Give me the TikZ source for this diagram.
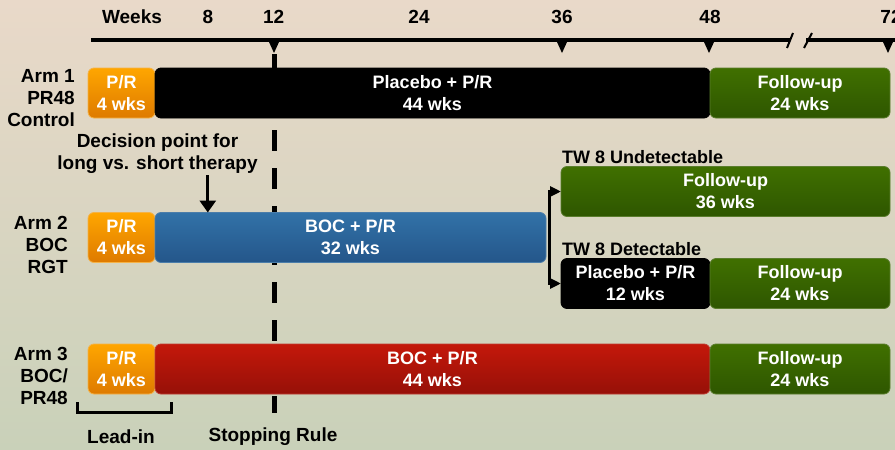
\documentclass[tikz,border=0pt]{standalone}
\usepackage{fontspec}
\setmainfont{Liberation Sans}
\usepackage{tikz}
\usetikzlibrary {positioning}
\usetikzlibrary{arrows.meta}
\usetikzlibrary{calc}

\definecolor{bgtop}{RGB}{233,217,201}
\definecolor{bgbot}{RGB}{201,209,185}
\definecolor{prtop}{RGB}{255,166,0}
\definecolor{prbot}{RGB}{222,122,0}
\definecolor{predge}{RGB}{245,178,70}
\definecolor{futop}{RGB}{64,112,0}
\definecolor{fubot}{RGB}{46,86,0}
\definecolor{fuedge}{RGB}{90,125,45}
\definecolor{bltop}{RGB}{50,114,168}
\definecolor{blbot}{RGB}{36,86,138}
\definecolor{bledge}{RGB}{75,125,170}
\definecolor{rdtop}{RGB}{196,24,10}
\definecolor{rdbot}{RGB}{150,16,8}
\definecolor{rdedge}{RGB}{190,60,50}

\begin{document}
\begin{tikzpicture}[x=1pt, y=-1pt,
		phase/.style={rounded corners=6pt, inner sep=0pt, outer sep=0pt, minimum height=50pt, line width=0.8pt, text=white, align=center, font=\bfseries\fontsize{18}{22}\selectfont},
		prphase/.style={phase, top color=prtop, bottom color=prbot, draw=predge, minimum width=67pt},
		plphase/.style={phase, fill=black, draw=black},
		fuphase/.style={phase, top color=futop, bottom color=fubot, draw=fuedge},
		blphase/.style={phase, top color=bltop, bottom color=blbot, draw=bledge},
		rdphase/.style={phase, top color=rdtop, bottom color=rdbot, draw=rdedge},
		lbl/.style={inner sep=1pt, align=center, font=\bfseries\fontsize{19}{22}\selectfont},
		armlbl/.style={lbl, align=right, anchor=east}
	]
			% background and page size
			\path[use as bounding box, top color=bgtop, bottom color=bgbot] (0,0) rectangle (895,450);

			% time axis with its break
			\draw[line width=3.5pt] (91,40) -- (790,40);
			\draw[line width=3.5pt] (806,40) -- (895,40);
			\draw[line width=2pt] (787,48) -- (793,33);
			\draw[line width=2pt] (804,48) -- (812,33);
			\foreach \lbl/\xx in {Weeks/132, 8/207.8, 12/273.7, 24/419, 36/562, 48/710, 72/891}
				{\node[lbl] (w\lbl) at (\xx,17) {\lbl};}
			\foreach \xx in {274, 562, 709, 888}
				{\fill (\xx-5,42) -- (\xx+5,42) -- (\xx,53) -- cycle;}

			% stopping rule line (behind the bars)
			\coordinate (stoptop) at (274,54);
			\coordinate (stopbot) at (274,413);
			\draw[line width=5pt, dash pattern=on 21pt off 17pt] (stoptop) -- (stopbot);

			% Arm 1
			\node[armlbl] (arm1) at (76,98) {Arm 1\\PR48\\Control};
			\node[prphase] (pr1) at (121.5,93) {P/R\\4 wks};
			\node[plphase, minimum width=555pt, right=0pt of pr1] (pl1) {Placebo + P/R\\44 wks};
			\node[fuphase, minimum width=180pt, right=0pt of pl1] (fu1) {Follow-up\\24 wks};

			% Arm 2
			\node[lbl] (dec) at (157.5,154) {Decision point for\\long vs. short therapy};
			\node[armlbl] (arm2) at (69,244.5) {Arm 2\\BOC\\RGT};
			\node[prphase] (pr2) at (121.5,237.5) {P/R\\4 wks};
			\node[blphase, minimum width=391pt, right=0pt of pr2] (boc2) {BOC + P/R\\32 wks};
			\node[lbl, anchor=west, font=\bfseries\fontsize{18}{22}\selectfont] (twu) at (561,157) {TW 8 Undetectable};
			\node[fuphase, minimum width=329pt] (fu2a) at (725.5,191.5) {Follow-up\\36 wks};
			\node[lbl, anchor=west, font=\bfseries\fontsize{18}{22}\selectfont] (twd) at (561,249) {TW 8 Detectable};
			\node[plphase, minimum width=149pt] (pl2) at (635.5,283.5) {Placebo + P/R\\12 wks};
			\node[fuphase, minimum width=180pt, right=0pt of pl2] (fu2b) {Follow-up\\24 wks};
			\coordinate (split) at (549,237.5);

			\draw[line width=3pt, -{Triangle[width=16pt,length=12pt]}] (dec.south -| w8) -- (w8 |- boc2.north);
			\draw[line width=3pt, {Triangle[width=10pt,length=11pt]}-{Triangle[width=10pt,length=11pt]}] (fu2a.west) -| (split) |- (pl2.west);

			% Arm 3
			\node[armlbl] (arm3) at (69,375.5) {Arm 3\\BOC/\\PR48};
			\node[prphase] (pr3) at (121.5,369) {P/R\\4 wks};
			\node[rdphase, minimum width=555pt, right=0pt of pr3] (boc3) {BOC + P/R\\44 wks};
			\node[fuphase, minimum width=180pt, right=0pt of boc3] (fu3) {Follow-up\\24 wks};

			% lead-in bracket and bottom labels
			\draw[line width=3pt] (77,402) |- (171,412) -- (171,402);
			\node[lbl] (lead) at (121,437) {Lead-in};
			\node[lbl] (stop) at (273,437) {Stopping Rule};
\end{tikzpicture}
\end{document}
